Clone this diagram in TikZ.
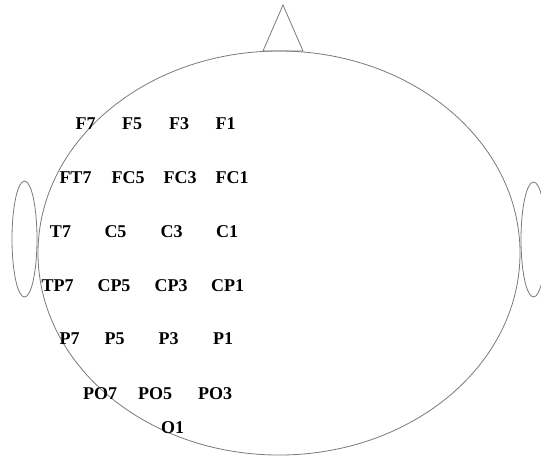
\documentclass[tikz,border=0pt]{standalone}
\usepackage{fontspec}
\setmainfont{Liberation Serif}
\begin{document}
\begin{tikzpicture}[x=0.75pt,y=-0.75pt,font=\bfseries\fontsize{13.5}{15}\selectfont]
  \definecolor{headline}{HTML}{7A7A7A}
  \tikzset{outline/.style={draw=headline,line width=0.6pt},
           elec/.style={inner sep=0pt,text=black,text height=1.4ex,text depth=0pt}}

  \path[use as bounding box] (0,0) rectangle (541,458);
  \clip (0,0) rectangle (541,458);

  % head, nose and ears
  \draw[outline] (279,253) ellipse [x radius=241,y radius=202];
  \draw[outline] (263,51) -- (283,5) -- (303,51) -- cycle;
  \draw[outline] (24.5,239) ellipse [x radius=12.5,y radius=58];
  \draw[outline] (533.5,239.5) ellipse [x radius=12.5,y radius=57.5];

  % electrode labels, one row at a time
  \foreach \x/\lab in {85.5/F7,132/F5,179/F3,225.5/F1}
    \node[elec] (\lab) at (\x,125.5) {\lab};
  \foreach \x/\lab in {75.5/FT7,128/FC5,180/FC3,232/FC1}
    \node[elec] (\lab) at (\x,179.5) {\lab};
  \foreach \x/\lab in {60.5/T7,115.5/C5,171.5/C3,227/C1}
    \node[elec] (\lab) at (\x,233) {\lab};
  \foreach \x/\lab in {57.5/TP7,114/CP5,171/CP3,227.5/CP1}
    \node[elec] (\lab) at (\x,287) {\lab};
  \foreach \x/\lab in {69.5/P7,114.5/P5,168.5/P3,223/P1}
    \node[elec] (\lab) at (\x,340.5) {\lab};
  \foreach \x/\lab in {100/PO7,155/PO5,215/PO3}
    \node[elec] (\lab) at (\x,395.5) {\lab};
  \node[elec] (O1) at (172.5,429.5) {O1};
\end{tikzpicture}
\end{document}
